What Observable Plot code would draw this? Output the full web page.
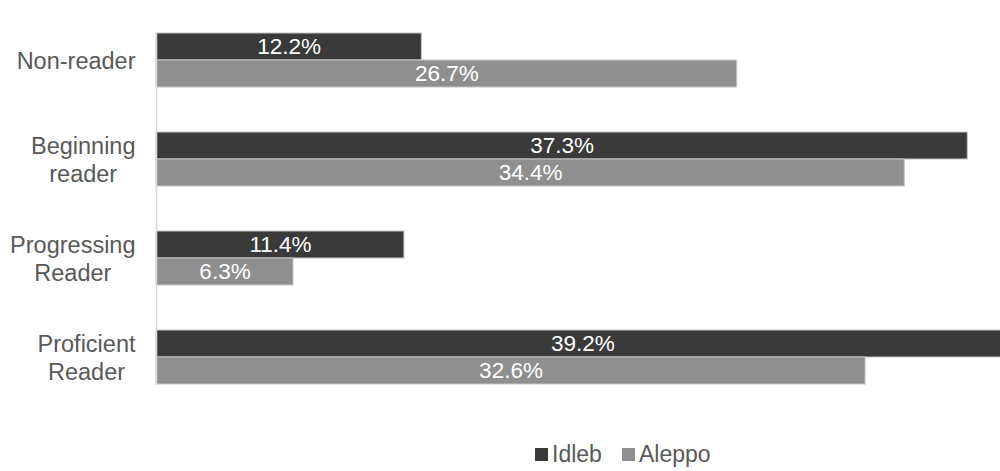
<!DOCTYPE html>
<html>
<head>
<meta charset="utf-8">
<script src="https://cdn.jsdelivr.net/npm/d3@7"></script>
<script src="https://cdn.jsdelivr.net/npm/@observablehq/plot@0.6"></script>
<style>
  html, body { margin: 0; padding: 0; background: #fff; overflow: hidden; }
  body { width: 1000px; height: 471px; font-family: "Liberation Sans", Arial, sans-serif; }
  #legend { position: relative; height: 61px; }
  .item { position: absolute; top: 31px; display: flex; align-items: center; font-size: 23px; color: #595959; }
  .sw { width: 13px; height: 13px; margin-right: 4px; }
</style>
</head>
<body>
<div id="chart"></div>
<div id="legend"></div>
<script>
const categories = ["Non-reader", "Beginning reader", "Progressing Reader", "Proficient Reader"];
const categoryLabels = ["Non-reader", "Beginning\nreader", "Progressing\nReader", "Proficient\nReader"];
const series = ["Idleb", "Aleppo"];
const idlebValues = [12.2, 37.3, 11.4, 39.2];
const aleppoValues = [26.7, 34.4, 6.3, 32.6];
const seriesColors = ["#3a3a3a", "#8f8f8f"];

const data = [];
categories.forEach((c, i) => {
  data.push({category: c, series: "Idleb", value: idlebValues[i]});
  data.push({category: c, series: "Aleppo", value: aleppoValues[i]});
});

const labelFontSize = 23.5;
const labelFont = `${labelFontSize}px "Liberation Sans", Arial, sans-serif`;
const ctx = document.createElement("canvas").getContext("2d");
ctx.font = labelFont;
const labelGap = 21;

// one centered multi-line label per category, block right-aligned against the axis
const labelMarks = categories.map((c, i) => {
  const w = d3.max(categoryLabels[i].split("\n"), line => ctx.measureText(line).width);
  return Plot.text([{category: c, label: categoryLabels[i]}], {
    fy: "category", frameAnchor: "left", dx: -labelGap - w / 2, textAnchor: "middle",
    text: "label", lineHeight: 1.17, fontSize: labelFontSize, fill: "#595959"
  });
});

const chart = Plot.plot({
  width: 1000,
  height: 410,
  marginLeft: 156,
  marginRight: 0,
  marginTop: 10,
  marginBottom: 3,
  style: {fontFamily: '"Liberation Sans", Arial, sans-serif', fontSize: "22px", background: "#fff"},
  x: {domain: [0, 40], range: [156, 1026], axis: null},
  fy: {domain: categories, paddingInner: 0.44, paddingOuter: 0.22, axis: null, label: null},
  y: {domain: series, padding: 0, axis: null, label: null},
  color: {domain: series, range: seriesColors},
  marks: [
    Plot.barX(data, {fy: "category", y: "series", x: "value", fill: "series", stroke: "#c4c4c4", strokeWidth: 1}),
    Plot.text(data, {fy: "category", y: "series", x: d => d.value / 2, text: d => d.value.toFixed(1) + "%", fill: "white", fontSize: 22.5}),
    ...labelMarks,
    Plot.frame({facet: "super", anchor: "left", stroke: "#d9d9d9", strokeWidth: 1.5})
  ]
});
document.getElementById("chart").appendChild(chart);

const legend = document.getElementById("legend");
const lefts = [535, 622];
series.forEach((s, i) => {
  const item = document.createElement("div");
  item.className = "item";
  item.style.left = lefts[i] + "px";
  const sw = document.createElement("span");
  sw.className = "sw";
  sw.style.background = seriesColors[i];
  const t = document.createElement("span");
  t.textContent = s;
  item.appendChild(sw);
  item.appendChild(t);
  legend.appendChild(item);
});
</script>
</body>
</html>
